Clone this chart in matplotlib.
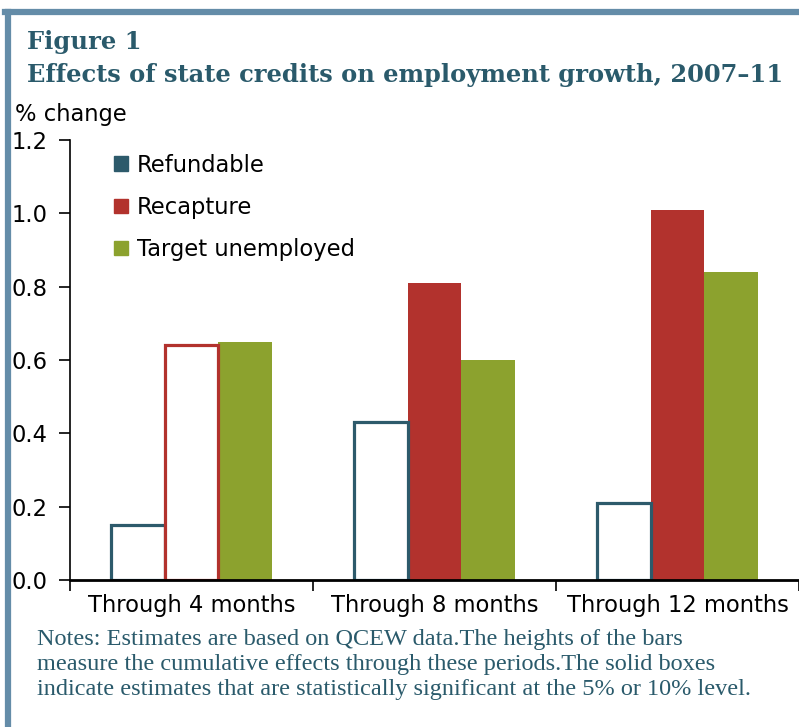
import matplotlib
matplotlib.use("Agg")
import matplotlib.pyplot as plt
from matplotlib.patches import Patch
from matplotlib.lines import Line2D
import numpy as np

categories = ["Through 4 months", "Through 8 months", "Through 12 months"]
series = ["Refundable", "Recapture", "Target unemployed"]
refundable = [0.15, 0.43, 0.21]
recapture = [0.64, 0.81, 1.01]
target = [0.65, 0.60, 0.84]
# True = statistically significant (solid box)
refundable_sig = [False, False, False]
recapture_sig = [False, True, True]
target_sig = [True, True, True]
yticks = [0.0, 0.2, 0.4, 0.6, 0.8, 1.0, 1.2]

colors = ["#2D5A6B", "#B2322D", "#8CA22E"]
title_color = "#2A5A6B"
border_color = "#648CA8"

W, H = 799, 727
fig = plt.figure(figsize=(W / 100, H / 100), dpi=100)

# frame lines (top and left)
fig.add_artist(Line2D([5 / W, 1], [1 - 12 / H, 1 - 12 / H], color=border_color, lw=4.5, transform=fig.transFigure))
fig.add_artist(Line2D([8 / W, 8 / W], [0, 1 - 12 / H], color=border_color, lw=4.5, transform=fig.transFigure))

fig.text(27 / W, 1 - 42 / H, "Figure 1", fontsize=17.4, fontweight="bold", family="DejaVu Serif",
         color=title_color, va="center", ha="left")
fig.text(27 / W, 1 - 75 / H, "Effects of state credits on employment growth, 2007\u201311", fontsize=17.4,
         fontweight="bold", family="DejaVu Serif", color=title_color, va="center", ha="left")
fig.text(15 / W, 1 - 114 / H, "% change", fontsize=16.3, va="center", ha="left")

ax = fig.add_axes([70 / W, (H - 580) / H, (W - 70) / W, (580 - 140) / H])

x = np.arange(len(categories))
width = 0.22
offsets = [-width, 0, width]
data = [refundable, recapture, target]
sigs = [refundable_sig, recapture_sig, target_sig]

for vals, sig, off, col in zip(data, sigs, offsets, colors):
    for xi, v, s in zip(x, vals, sig):
        if s:
            ax.bar(xi + off, v, width, color=col, edgecolor=col, linewidth=0, zorder=2)
        else:
            ax.bar(xi + off, v, width, facecolor="white", edgecolor=col, linewidth=2.3, zorder=3)

ax.set_xlim(-0.5, 2.5)
ax.set_ylim(0, 1.2)
ax.set_yticks(yticks)
ax.set_yticklabels([f"{t:.1f}" for t in yticks], fontsize=16.3)
ax.set_xticks(x)
ax.set_xticklabels(categories, fontsize=16.3)
ax.tick_params(axis="x", length=0, pad=10)
ax.set_xticks([-0.5, 0.5, 1.5, 2.5], minor=True)
ax.tick_params(axis="x", which="minor", length=8, width=1.2, direction="out")
ax.tick_params(axis="y", length=8, width=1.2, direction="out", pad=8)
for s in ["top", "right"]:
    ax.spines[s].set_visible(False)
ax.spines["left"].set_linewidth(1.2)
ax.spines["bottom"].set_linewidth(2)
ax.spines["bottom"].set_zorder(5)

handles = [Patch(facecolor=c, edgecolor=c) for c in colors]
ax.legend(handles, series, loc="upper left", bbox_to_anchor=(0.042, 1.0), frameon=False, fontsize=16.3,
          handlelength=0.6, handleheight=0.6, handletextpad=0.4, labelspacing=0.85, borderaxespad=0.2)

notes = ["Notes: Estimates are based on QCEW data.The heights of the bars",
         "measure the cumulative effects through these periods.The solid boxes",
         "indicate estimates that are statistically significant at the 5% or 10% level."]
for i, line in enumerate(notes):
    fig.text(37 / W, 1 - (640 + 24.5 * i) / H, line, fontsize=17.5, family="Liberation Serif",
             color=title_color, va="center", ha="left")

fig.savefig("out.png", dpi=100)
